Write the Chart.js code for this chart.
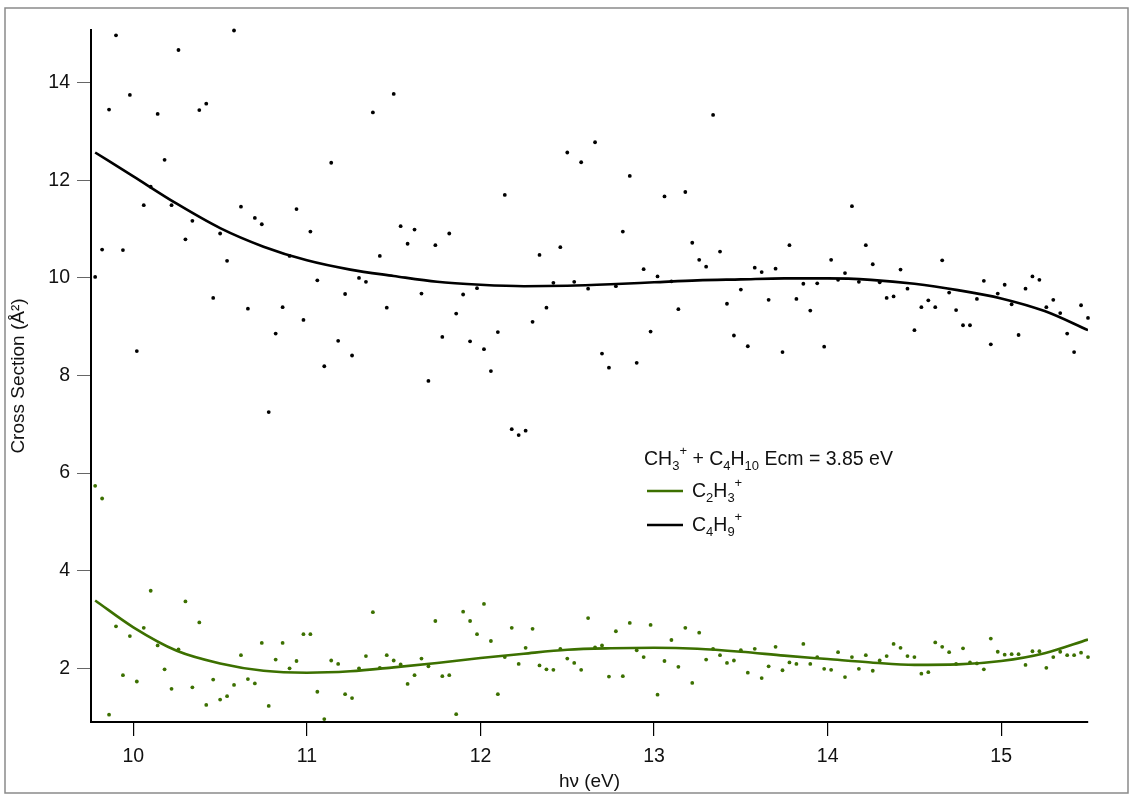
<!DOCTYPE html>
<html>
<head>
<meta charset="utf-8">
<script src="https://cdn.jsdelivr.net/npm/chart.js@4/dist/chart.umd.min.js"></script>
<style>
  html, body { margin: 0; padding: 0; background: #fff; }
  #wrap { width: 1130px; height: 795px; position: relative; }
</style>
</head>
<body>
<div id="wrap"><canvas id="c" width="1130" height="795"></canvas></div>
<script>
// Photon energy grid (eV)
const energies = [
  9.78, 9.82, 9.86, 9.90, 9.94, 9.98, 10.02, 10.06, 10.10, 10.14,
  10.18, 10.22, 10.26, 10.30, 10.34, 10.38, 10.42, 10.46, 10.50, 10.54,
  10.58, 10.62, 10.66, 10.70, 10.74, 10.78, 10.82, 10.86, 10.90, 10.94,
  10.98, 11.02, 11.06, 11.10, 11.14, 11.18, 11.22, 11.26, 11.30, 11.34,
  11.38, 11.42, 11.46, 11.50, 11.54, 11.58, 11.62, 11.66, 11.70, 11.74,
  11.78, 11.82, 11.86, 11.90, 11.94, 11.98, 12.02, 12.06, 12.10, 12.14,
  12.18, 12.22, 12.26, 12.30, 12.34, 12.38, 12.42, 12.46, 12.50, 12.54,
  12.58, 12.62, 12.66, 12.70, 12.74, 12.78, 12.82, 12.86, 12.90, 12.94,
  12.98, 13.02, 13.06, 13.10, 13.14, 13.18, 13.22, 13.26, 13.30, 13.34,
  13.38, 13.42, 13.46, 13.50, 13.54, 13.58, 13.62, 13.66, 13.70, 13.74,
  13.78, 13.82, 13.86, 13.90, 13.94, 13.98, 14.02, 14.06, 14.10, 14.14,
  14.18, 14.22, 14.26, 14.30, 14.34, 14.38, 14.42, 14.46, 14.50, 14.54,
  14.58, 14.62, 14.66, 14.70, 14.74, 14.78, 14.82, 14.86, 14.90, 14.94,
  14.98, 15.02, 15.06, 15.10, 15.14, 15.18, 15.22, 15.26, 15.30, 15.34,
  15.38, 15.42, 15.46, 15.50
];

// C2H3+ cross section points
const c2h3 = [
  5.74, 5.48, 1.05, 2.86, 1.86, 2.66, 1.73, 2.83, 3.59, 2.47,
  1.98, 1.58, 2.39, 3.37, 1.61, 2.94, 1.25, 1.77, 1.36, 1.43,
  1.66, 2.27, 1.78, 1.69, 2.52, 1.23, 2.18, 2.52, 2.00, 2.15,
  2.70, 2.70, 1.52, 0.96, 2.16, 2.09, 1.47, 1.39, 2.00, 2.25,
  3.15, 2.01, 2.27, 2.16, 2.08, 1.68, 1.86, 2.20, 2.04, 2.97,
  1.84, 1.86, 1.06, 3.16, 2.97, 2.70, 3.32, 2.56, 1.47, 2.23,
  2.83, 2.09, 2.42, 2.81, 2.06, 1.98, 1.97, 2.40, 2.20, 2.11,
  1.97, 3.03, 2.43, 2.47, 1.83, 2.76, 1.84, 2.93, 2.37, 2.23,
  2.89, 1.46, 2.15, 2.58, 2.03, 2.83, 1.70, 2.73, 2.18, 2.40,
  2.27, 2.11, 2.16, 2.37, 1.91, 2.40, 1.80, 2.04, 2.44, 1.96,
  2.12, 2.09, 2.50, 2.09, 2.23, 1.99, 1.97, 2.33, 1.82, 2.23,
  1.99, 2.27, 1.95, 2.16, 2.25, 2.50, 2.42, 2.25, 2.23, 1.89,
  1.92, 2.53, 2.44, 2.33, 2.09, 2.41, 2.12, 2.10, 1.98, 2.61,
  2.34, 2.28, 2.29, 2.29, 2.07, 2.35, 2.35, 2.01, 2.23, 2.34,
  2.27, 2.27, 2.32, 2.23
];

// C4H9+ cross section points
const c4h9 = [
  10.02, 10.58, 13.45, 14.97, 10.57, 13.75, 8.50, 11.49, 11.87, 13.36,
  12.42, 11.49, 14.67, 10.79, 11.17, 13.44, 13.57, 9.59, 10.91, 10.35,
  15.07, 11.46, 9.37, 11.23, 11.10, 7.25, 8.86, 9.40, 10.45, 11.41,
  9.14, 10.95, 9.95, 8.19, 12.36, 8.71, 9.67, 8.41, 10.00, 9.92,
  13.39, 10.45, 9.39, 13.77, 11.06, 10.70, 10.99, 9.68, 7.89, 10.67,
  8.79, 10.91, 9.27, 9.66, 8.70, 9.79, 8.54, 8.09, 8.89, 11.70,
  6.90, 6.78, 6.87, 9.10, 10.47, 9.39, 9.90, 10.63, 12.57, 9.92,
  12.37, 9.78, 12.78, 8.45, 8.16, 9.83, 10.95, 12.09, 8.26, 10.18,
  8.90, 10.03, 11.67, 9.93, 9.36, 11.76, 10.72, 10.37, 10.23, 13.34,
  10.54, 9.47, 8.82, 9.76, 8.60, 10.21, 10.12, 9.55, 10.19, 8.48,
  10.67, 9.57, 9.88, 9.33, 9.89, 8.59, 10.37, 9.96, 10.10, 11.47,
  9.92, 10.67, 10.28, 9.91, 9.59, 9.62, 10.17, 9.78, 8.93, 9.40,
  9.54, 9.40, 10.36, 9.70, 9.34, 9.03, 9.03, 9.57, 9.94, 8.64,
  9.68, 9.86, 9.46, 8.83, 9.78, 10.03, 9.96, 9.40, 9.55, 9.28,
  8.86, 8.48, 9.44, 9.18
];

// Fitted curves
const fitEnergies = [9.78, 10.0, 10.25, 10.5, 10.75, 11.0, 11.25, 11.5, 11.75, 12.0,
  12.25, 12.5, 12.75, 13.0, 13.25, 13.5, 13.75, 14.0, 14.25, 14.5, 14.75, 15.0, 15.25, 15.5];
const c2h3Fit = [3.39, 2.84, 2.36, 2.10, 1.95, 1.91, 1.94, 2.02, 2.11, 2.21,
  2.30, 2.38, 2.41, 2.42, 2.40, 2.34, 2.26, 2.19, 2.12, 2.07, 2.08, 2.15, 2.31, 2.59];
const c4h9Fit = [12.57, 12.08, 11.52, 11.02, 10.64, 10.36, 10.17, 10.04, 9.92, 9.86,
  9.83, 9.84, 9.87, 9.91, 9.95, 9.97, 9.99, 9.99, 9.96, 9.88, 9.75, 9.58, 9.32, 8.93];

const xTicks = [10, 11, 12, 13, 14, 15];
const yTicks = [2, 4, 6, 8, 10, 12, 14];

const GREEN = '#3c7000';
const FONT = "'Liberation Sans', Arial, sans-serif";

const pts = (xs, ys) => xs.map((x, i) => ({x: x, y: ys[i]}));

const framePlugin = {
  id: 'frame',
  beforeDraw(chart) {
    const ctx = chart.ctx;
    ctx.save();
    ctx.fillStyle = '#fff';
    ctx.fillRect(0, 0, chart.width, chart.height);
    ctx.strokeStyle = '#8a8a8a';
    ctx.lineWidth = 1.5;
    ctx.strokeRect(5, 8, 1123, 785);
    ctx.restore();
  }
};

function drawRich(ctx, x, y, segs, size, small) {
  let cx = x;
  for (const [t, mode] of segs) {
    const fs = mode === 0 ? size : small;
    ctx.font = fs + "px " + FONT;
    const dy = mode === -1 ? 4.5 : (mode === 1 ? -10 : 0);
    ctx.fillText(t, cx, y + dy);
    cx += ctx.measureText(t).width;
  }
}

const legendPlugin = {
  id: 'richLegend',
  afterDraw(chart) {
    const ctx = chart.ctx;
    ctx.save();
    ctx.fillStyle = '#111';
    ctx.textBaseline = 'alphabetic';
    ctx.textAlign = 'left';
    drawRich(ctx, 644, 465, [['CH',0],['3',-1],['+',1],[' + C',0],['4',-1],['H',0],['10',-1],[' Ecm = 3.85 eV',0]], 19.5, 13);
    ctx.lineWidth = 2.5;
    ctx.strokeStyle = GREEN;
    ctx.beginPath(); ctx.moveTo(647, 491); ctx.lineTo(683, 491); ctx.stroke();
    ctx.strokeStyle = '#000';
    ctx.beginPath(); ctx.moveTo(647, 525); ctx.lineTo(683, 525); ctx.stroke();
    drawRich(ctx, 692, 497, [['C',0],['2',-1],['H',0],['3',-1],['+',1]], 19.5, 13);
    drawRich(ctx, 692, 531, [['C',0],['4',-1],['H',0],['9',-1],['+',1]], 19.5, 13);
    ctx.restore();
  }
};

new Chart(document.getElementById('c'), {
  type: 'scatter',
  data: {
    datasets: [
      { label: 'C2H3+ data', data: pts(energies, c2h3), backgroundColor: GREEN, borderColor: GREEN,
        pointRadius: 1.9, pointBorderWidth: 0, showLine: false, clip: false, order: 4 },
      { label: 'C4H9+ data', data: pts(energies, c4h9), backgroundColor: '#000', borderColor: '#000',
        pointRadius: 1.9, pointBorderWidth: 0, showLine: false, clip: false, order: 3 },
      { label: 'C2H3+', data: pts(fitEnergies, c2h3Fit), borderColor: GREEN, backgroundColor: GREEN,
        showLine: true, pointRadius: 0, borderWidth: 2.6, cubicInterpolationMode: 'monotone', order: 2 },
      { label: 'C4H9+', data: pts(fitEnergies, c4h9Fit), borderColor: '#000', backgroundColor: '#000',
        showLine: true, pointRadius: 0, borderWidth: 2.6, cubicInterpolationMode: 'monotone', order: 1 }
    ]
  },
  options: {
    responsive: false,
    animation: false,
    devicePixelRatio: 1,
    layout: { padding: { left: 0, top: 30, right: 42, bottom: 0 } },
    plugins: { legend: { display: false }, tooltip: { enabled: false } },
    scales: {
      x: {
        type: 'linear',
        min: 9.756, max: 15.5,
        afterFit: s => { s.height = 73; },
        afterBuildTicks: s => { s.ticks = xTicks.map(v => ({value: v})); },
        border: { display: true, color: '#000', width: 2 },
        grid: { drawOnChartArea: false, drawTicks: true, tickLength: 14, color: '#000', lineWidth: 1.2 },
        ticks: { padding: 9, color: '#111', font: { family: FONT, size: 19.5 }, maxRotation: 0 },
        title: { display: true, text: 'hν (eV)', color: '#111', font: { family: FONT, size: 19 }, padding: { top: 0, bottom: 2 } }
      },
      y: {
        type: 'linear',
        min: 0.9, max: 15.08,
        afterFit: s => { s.width = 91; },
        afterBuildTicks: s => { s.ticks = yTicks.map(v => ({value: v})); },
        border: { display: true, color: '#000', width: 2 },
        grid: { drawOnChartArea: false, drawTicks: true, tickLength: 14, color: '#666', lineWidth: 1 },
        ticks: { padding: 7, color: '#111', font: { family: FONT, size: 19.5 } },
        title: { display: true, text: 'Cross Section (Å²)', color: '#111', font: { family: FONT, size: 19 }, padding: { top: 7, bottom: 0 } }
      }
    }
  },
  plugins: [framePlugin, legendPlugin]
});
</script>
</body>
</html>
